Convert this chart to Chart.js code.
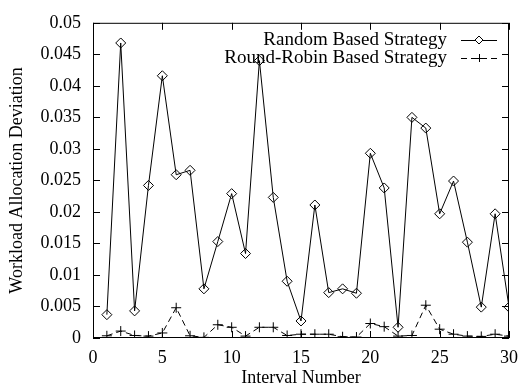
<!DOCTYPE html>
<html>
<head>
<meta charset="utf-8">
<script src="https://cdn.jsdelivr.net/npm/chart.js@4"></script>
<style>
  html, body { margin: 0; padding: 0; background: #fff; }
  #wrap { width: 527px; height: 385px; }
</style>
</head>
<body>
<div id="wrap"><canvas id="chart" width="527" height="385"></canvas></div>
<script>
// interval numbers 1..30
const intervals = [1, 2, 3, 4, 5, 6, 7, 8, 9, 10, 11, 12, 13, 14, 15,
                   16, 17, 18, 19, 20, 21, 22, 23, 24, 25, 26, 27, 28, 29, 30];

const randomBased = [0.0037, 0.0468, 0.0043, 0.0242, 0.0416, 0.0259, 0.0266, 0.0078, 0.0153, 0.0229,
                     0.0134, 0.0440, 0.0223, 0.0090, 0.0027, 0.0211, 0.0072, 0.0078, 0.0071, 0.0293,
                     0.0238, 0.0017, 0.0350, 0.0333, 0.0197, 0.0249, 0.0152, 0.0049, 0.0197, 0.0049];

const roundRobin = [0.00035, 0.0011, 0.0004, 0.0003, 0.0008, 0.0048, 0.00035, 0.0001, 0.0021, 0.0017,
                    0.0003, 0.0017, 0.0017, 0.0004, 0.0006, 0.0006, 0.0006, 0.0002, 0.00015, 0.0023,
                    0.0018, 0.0003, 0.0004, 0.0052, 0.0014, 0.0006, 0.0003, 0.00025, 0.0006, 0.0003];

const seriesNames = ["Random Based Strategy", "Round-Robin Based Strategy"];
const xTicks = [0, 5, 10, 15, 20, 25, 30];
const yTicks = [0, 0.005, 0.01, 0.015, 0.02, 0.025, 0.03, 0.035, 0.04, 0.045, 0.05];

const FONT = "'Liberation Serif', 'Times New Roman', serif";

// gnuplot style: inward ticks on all four sides + legend inside the top-right
const gnuplotLook = {
  id: "gnuplotLook",
  afterDatasetsDraw(chart) {
    const { ctx, chartArea: a, scales } = chart;
    ctx.save();
    ctx.strokeStyle = "#000";
    ctx.lineWidth = 1;
    ctx.strokeRect(a.left + 0.5, a.top + 0.5, a.right - a.left - 1, a.bottom - a.top - 1);
    ctx.beginPath();
    xTicks.forEach(v => {
      const x = Math.round(scales.x.getPixelForValue(v)) + 0.5;
      ctx.moveTo(x, a.bottom); ctx.lineTo(x, a.bottom - 7);
      ctx.moveTo(x, a.top); ctx.lineTo(x, a.top + 7);
    });
    yTicks.forEach(v => {
      const y = Math.round(scales.y.getPixelForValue(v)) + 0.5;
      ctx.moveTo(a.left, y); ctx.lineTo(a.left + 7, y);
      ctx.moveTo(a.right, y); ctx.lineTo(a.right - 7, y);
    });
    ctx.stroke();

    // legend
    ctx.font = "19px " + FONT;
    ctx.fillStyle = "#000";
    ctx.textAlign = "right";
    ctx.textBaseline = "middle";
    const textRight = 447, lineL = 461, lineR = 497;
    chart.data.datasets.forEach((ds, i) => {
      const y = 40 + i * 18;
      ctx.fillText(ds.label, textRight, y);
      ctx.beginPath();
      ctx.setLineDash(ds.borderDash || []);
      ctx.moveTo(lineL, y + 0.5); ctx.lineTo(lineR, y + 0.5);
      ctx.stroke();
      ctx.setLineDash([]);
      const cx = (lineL + lineR) / 2;
      ctx.beginPath();
      if (ds.pointStyle === "rectRot") {
        ctx.moveTo(cx, y - 4); ctx.lineTo(cx + 4, y); ctx.lineTo(cx, y + 4); ctx.lineTo(cx - 4, y); ctx.closePath();
        ctx.fillStyle = "#fff"; ctx.fill(); ctx.fillStyle = "#000";
      } else {
        ctx.moveTo(cx - 4, y + 0.5); ctx.lineTo(cx + 4, y + 0.5);
        ctx.moveTo(cx + 0.5, y - 4); ctx.lineTo(cx + 0.5, y + 4);
      }
      ctx.stroke();
    });
    ctx.restore();
  }
};

new Chart(document.getElementById("chart"), {
  type: "line",
  data: {
    datasets: [{
      label: seriesNames[0],
      data: intervals.map((x, i) => ({ x, y: randomBased[i] })),
      borderColor: "#000",
      borderWidth: 1,
      backgroundColor: "#fff",
      pointStyle: "rectRot",
      pointRadius: 5,
      pointBorderWidth: 1,
      pointBorderColor: "#000",
      pointBackgroundColor: "rgba(255,255,255,0)",
      tension: 0
    }, {
      label: seriesNames[1],
      data: intervals.map((x, i) => ({ x, y: roundRobin[i] })),
      borderColor: "#000",
      borderWidth: 1,
      borderDash: [6, 4],
      pointStyle: "cross",
      pointRadius: 5,
      pointBorderWidth: 1,
      pointBorderColor: "#000",
      tension: 0
    }]
  },
  options: {
    responsive: false,
    animation: false,
    layout: { padding: { top: 11, right: 10, left: 0, bottom: 0 } },
    plugins: { legend: { display: false }, tooltip: { enabled: false } },
    scales: {
      x: {
        type: "linear", min: 0, max: 30,
        afterBuildTicks: s => { s.ticks = xTicks.map(v => ({ value: v })); },
        afterFit: s => { s.height = 47; },
        grid: { display: false, drawTicks: false },
        border: { display: false },
        ticks: { color: "#000", font: { family: FONT, size: 18 }, padding: 9, maxRotation: 0 },
        title: { display: true, text: "Interval Number", color: "#000",
                 font: { family: FONT, size: 18, lineHeight: 0.8 }, padding: 0 }
      },
      y: {
        type: "linear", min: 0, max: 0.05,
        afterBuildTicks: s => { s.ticks = yTicks.map(v => ({ value: v })); },
        afterFit: s => { s.width = 93; },
        grid: { display: false, drawTicks: false },
        border: { display: false },
        ticks: { color: "#000", font: { family: FONT, size: 18 }, padding: 12,
                 callback: v => String(Number(v.toFixed(3))) },
        title: { display: true, text: "Workload Allocation Deviation", color: "#000",
                 font: { family: FONT, size: 18 }, padding: { top: 6, bottom: 0 } }
      }
    }
  },
  plugins: [gnuplotLook]
});
</script>
</body>
</html>
